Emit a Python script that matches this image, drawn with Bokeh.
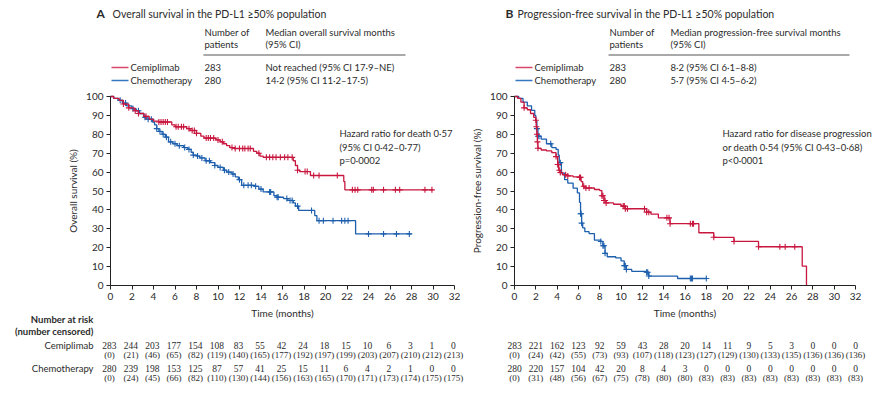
import numpy as np
from bokeh.plotting import figure
from bokeh.models import Range1d, Label, LabelSet, ColumnDataSource, Arrow, FixedTicker
from bokeh.layouts import row
from bokeh.embed import file_html
from bokeh.resources import INLINE

FONT = "Lato"
RED = "#c8173f"
BLUE = "#1d5fad"
RED_LEG = "#d9486a"
BLUE_LEG = "#3578c0"
TXT = "#2b2b2b"

# ---------------- data ----------------
months = list(range(0, 33, 2))
y_ticks = list(range(0, 101, 10))

# Panel A: overall survival
a_cemi_t = [0, 0.3, 0.8, 1.2, 1.7, 2.2, 2.6, 3.1, 3.6, 4.0, 4.5, 5.7, 6.0, 7.1, 7.4, 8.0, 8.4, 8.7,
            9.8, 10.2, 10.5, 10.8, 11.1, 11.5, 13.3, 13.6, 13.9, 14.2, 17.0, 17.2, 17.4, 17.6, 18.6, 21.7, 21.8]
a_cemi_s = [100, 99, 98, 96, 94, 92.5, 91, 89.5, 88, 87, 86.5, 85, 84, 83, 82, 80.5, 79, 78,
            77, 76, 75, 74, 73, 72.5, 71, 70, 68.5, 67.8, 66, 63.5, 61, 60.3, 58.2, 55, 50.6]
a_cemi_end = 30.0
a_cemi_cens = [1.2, 1.7, 2.3, 2.6, 3.3, 4.5, 4.7, 4.9, 5.1, 5.3, 6.1, 6.3, 6.6, 6.8, 7.3, 7.6, 7.8,
               8.0, 8.9, 9.1, 9.3, 9.6, 10.0, 10.4, 11.3, 11.6, 12.0, 12.3, 12.5, 12.8, 13.0, 13.8,
               14.5, 14.8, 15.1, 15.4, 15.8, 16.2, 16.5, 16.9, 17.4, 18.1, 18.3, 18.9, 19.4, 21.1,
               22.5, 22.75, 23.0, 24.3, 24.45, 25.4, 26.5, 26.9, 29.25, 29.9]

a_chemo_t = [0, 0.3, 0.7, 1.1, 1.5, 2.0, 2.4, 2.7, 3.1, 3.3, 3.9, 4.1, 4.3, 4.5, 4.8, 5.1, 5.4, 5.8,
             6.2, 6.8, 7.2, 7.5, 7.7, 8.0, 8.3, 8.8, 9.3, 9.7, 10.0, 10.5, 10.8, 11.3, 11.6, 11.9,
             12.2, 13.4, 13.8, 14.2, 15.2, 15.5, 16.1, 16.5, 17.0, 17.2, 17.5, 19.0, 19.2, 22.8]
a_chemo_s = [100, 99, 98, 96.5, 95, 93.5, 92.5, 91, 89, 88, 86.5, 85, 83, 81.5, 80, 78.5, 76, 75,
             74, 73, 72, 70.5, 69, 68.5, 67.5, 66, 65, 63.5, 62.5, 61, 60, 59, 57.5, 56,
             53, 52.5, 51, 49.5, 47.5, 46.7, 46, 45, 43.7, 42, 39.7, 37, 34.3, 27.3]
a_chemo_end = 28.0
a_chemo_cens = [0.9, 1.4, 2.1, 2.6, 3.2, 3.5, 3.8, 4.3, 4.6, 4.9, 5.2, 5.6, 6.0, 6.4, 6.9, 7.3, 7.7,
                8.1, 8.5, 8.9, 9.2, 9.7, 10.2, 10.6, 11.0, 11.4, 12.0, 12.4, 12.8, 13.1, 13.5, 14.0,
                14.8, 14.9, 15.5, 15.6, 16.4, 16.7, 16.9, 17.4, 18.7, 19.4, 19.8, 20.7, 21.5, 21.8,
                22.1, 24.0, 25.4, 26.6, 27.8]

# Panel B: progression-free survival
b_cemi_t = [0, 0.3, 0.6, 0.9, 1.2, 1.5, 1.8, 2.0, 2.05, 2.1, 2.15, 2.2, 2.5, 3.0, 3.5, 3.9, 4.05,
            4.15, 4.25, 4.5, 5.0, 5.5, 6.1, 6.25, 6.4, 6.6, 7.5, 8.0, 8.2, 8.4, 8.6, 9.3, 10.0,
            10.4, 12.4, 12.8, 13.5, 14.6, 17.3, 18.7, 20.6, 22.9, 27.0, 27.4]
b_cemi_s = [100, 99, 97, 94, 93, 91, 89, 87.4, 84, 80, 76, 72.6, 71.7, 71.2, 70.3, 68.2, 64,
            61, 59.8, 58.6, 58, 57.5, 57.2, 55, 52.5, 51.6, 50.8, 50.2, 47.5, 45, 43.7, 43.0, 42,
            40.6, 38.8, 37.8, 35.8, 32.7, 27.9, 25.5, 23.3, 20.5, 10.3, 0]
b_cemi_end = 27.4
b_cemi_cens = [0.9, 2.0, 2.05, 2.1, 2.15, 2.2, 3.9, 4.05, 4.1, 4.2, 4.3, 4.8, 5.0, 6.1, 6.2, 6.5,
               6.7, 7.0, 8.2, 8.3, 8.4, 8.5, 8.6, 10.2, 10.3, 10.4, 10.6, 12.2, 12.4, 12.6, 14.3,
               14.5, 14.6, 16.5, 16.7, 16.8, 18.7, 20.6, 22.9, 24.9, 25.4, 26.3]

b_chemo_t = [0, 0.4, 0.8, 1.2, 1.6, 1.9, 2.0, 2.1, 2.2, 2.5, 3.0, 3.5, 3.9, 4.1, 4.2, 4.4, 4.7,
             5.0, 5.5, 5.9, 6.1, 6.2, 6.3, 6.4, 6.6, 7.0, 7.5, 8.1, 8.3, 8.5, 8.7, 9.5, 10.0,
             10.3, 10.5, 11.0, 12.4, 12.6, 15.3]
b_chemo_s = [100, 99, 97, 95, 92.7, 90, 87, 83, 79, 77.5, 75, 73, 72, 69, 65, 59.5, 56,
             54.2, 51.5, 49, 44, 38, 33, 30.5, 28.5, 27.5, 24, 23.3, 21, 17, 15.2, 14.6, 13,
             10.5, 8.5, 7.5, 7, 5, 3.7]
b_chemo_end = 18.0
b_chemo_cens = [2.1, 2.2, 2.3, 3.4, 4.3, 6.2, 6.25, 6.3, 8.1, 8.3, 8.4, 8.5, 10.3, 10.4, 10.5,
                12.4, 12.5, 12.6, 16.5, 16.6, 16.7, 18.0]

# Numbers at risk (number censored)
a_cemi_risk = [283, 244, 203, 177, 154, 108, 83, 55, 42, 24, 18, 15, 10, 6, 3, 1, 0]
a_cemi_rcens = [0, 21, 46, 65, 82, 119, 140, 165, 177, 192, 197, 199, 203, 207, 210, 212, 213]
a_chemo_risk = [280, 239, 198, 153, 125, 87, 57, 41, 25, 15, 11, 6, 4, 2, 1, 0, 0]
a_chemo_rcens = [0, 24, 45, 66, 82, 110, 130, 144, 156, 163, 165, 170, 171, 173, 174, 175, 175]
b_cemi_risk = [283, 221, 162, 123, 92, 59, 43, 28, 20, 14, 11, 9, 5, 3, 0, 0, 0]
b_cemi_rcens = [0, 24, 42, 55, 73, 93, 107, 118, 123, 127, 129, 130, 133, 135, 136, 136, 136]
b_chemo_risk = [280, 220, 157, 104, 42, 20, 8, 4, 3, 0, 0, 0, 0, 0, 0, 0, 0]
b_chemo_rcens = [0, 31, 48, 56, 67, 75, 78, 80, 80, 83, 83, 83, 83, 83, 83, 83, 83]

arms = ["Cemiplimab", "Chemotherapy"]
a_patients = ["283", "280"]
b_patients = ["283", "280"]
a_medians = ["Not reached (95% CI 17·9–NE)", "14·2 (95% CI 11·2–17·5)"]
b_medians = ["8·2 (95% CI 6·1–8·8)", "5·7 (95% CI 4·5–6·2)"]


# ---------------- helpers ----------------
def step_values(ts, ss, cens):
    ts = np.asarray(ts)
    idx = np.searchsorted(ts, np.asarray(cens), side="right") - 1
    return [ss[i] for i in idx]


H = 394


class Panel:
    """One panel; the frame covers the whole figure, axes are fixed at the origin."""

    def __init__(self, width, off, left, right, top=96, bottom=285):
        # left/right/top/bottom: page pixel positions of t=0, t=32, 100 %, 0 %
        self.off = off
        L, R = left - off, right - off
        ppm = (R - L) / 32.0
        ppp = (bottom - top) / 100.0
        xr = Range1d(-L / ppm, 32 + (width - R) / ppm)
        yr = Range1d(-(H - bottom) / ppp, 100 + top / ppp)
        self.p = figure(width=width, height=H, output_backend="svg", toolbar_location=None,
                        x_range=xr, y_range=yr, min_border=0)
        p = self.p
        p.outline_line_color = None
        p.grid.visible = False
        p.background_fill_color = "white"
        p.border_fill_color = "white"
        for ax in (p.xaxis[0], p.yaxis[0]):
            ax.fixed_location = 0
            ax.axis_line_color = "#222222"
            ax.major_tick_line_color = "#222222"
            ax.major_tick_out = 4
            ax.major_tick_in = 0
            ax.minor_tick_line_color = None
            ax.major_label_text_font = FONT
            ax.major_label_text_font_size = "10px"
            ax.major_label_text_color = TXT
            ax.axis_label_text_font = FONT
            ax.axis_label_text_font_size = "10px"
            ax.axis_label_text_font_style = "normal"
            ax.axis_label_text_color = TXT
        p.xaxis.bounds = (0, 32)
        p.yaxis.bounds = (0, 100)
        p.xaxis.ticker = FixedTicker(ticks=months)
        p.yaxis.ticker = FixedTicker(ticks=y_ticks)
        p.xaxis.major_label_standoff = 3
        p.yaxis.major_label_standoff = 3
        p.xaxis.axis_label = "Time (months)"
        p.xaxis.axis_label_standoff = 4
        p.yaxis.axis_label_standoff = 4

    def text(self, x, y, t, size="9.5px", align="left", style="normal", color=TXT):
        self.p.add_layout(Label(x=x - self.off, y=H - y, x_units="screen", y_units="screen",
                                text=t, text_font=FONT, text_font_size=size, text_align=align,
                                text_baseline="middle", text_font_style=style, text_color=color))

    def hline(self, x0, x1, y, color, width=1.0):
        self.p.add_layout(Arrow(x_start=x0 - self.off, x_end=x1 - self.off,
                                y_start=H - y, y_end=H - y,
                                start_units="screen", end_units="screen",
                                start=None, end=None, line_color=color, line_width=width))

    def curve(self, ts, ss, end, cens, color):
        xs = list(ts) + [end]
        ys = list(ss) + [ss[-1]]
        self.p.step(xs, ys, mode="after", line_color=color, line_width=1.3)
        self.p.scatter(cens, step_values(ts, ss, cens), marker="cross", size=6,
                       line_color=color, line_width=1.1)

    def risk_row(self, values, y, offset=0.0, size="9.5px"):
        src = ColumnDataSource(dict(x=[m + offset for m in months], y=[H - y] * len(months),
                                    t=[str(v) for v in values]))
        self.p.add_layout(LabelSet(x="x", y="y", text="t", source=src, x_units="data",
                                   y_units="screen", text_font=FONT, text_font_size=size,
                                   text_align="center", text_baseline="middle", text_color=TXT))


# ---------------- panel A ----------------
A = Panel(width=466, off=0, left=110, right=454)
A.p.yaxis.axis_label = "Overall survival (%)"
A.curve(a_chemo_t, a_chemo_s, a_chemo_end, a_chemo_cens, BLUE)
A.curve(a_cemi_t, a_cemi_s, a_cemi_end, a_cemi_cens, RED)

A.text(96, 13, "A", size="12px", style="bold")
A.text(112, 13, "Overall survival in the PD-L1 ≥50% population", size="10.5px")
A.text(204, 32, "Number of")
A.text(204, 44, "patients")
A.text(265, 32, "Median overall survival months")
A.text(265, 44, "(95% CI)")
A.hline(203, 405, 54.5, "#555555", 1.2)
for i, (arm, col, n, med) in enumerate(zip(arms, [RED_LEG, BLUE_LEG], a_patients, a_medians)):
    yy = 67 + 13 * i
    A.hline(111, 128, yy, col, 1.5)
    A.text(130, yy, arm)
    A.text(204, yy, n)
    A.text(265, yy, med)

A.text(339, 133, "Hazard ratio for death 0·57")
A.text(339, 146.5, "(95% CI 0·42–0·77)")
A.text(339, 159.5, "p=0·0002")

A.text(93, 319, "Number at risk", align="right", style="bold")
A.text(93, 331, "(number censored)", align="right", style="bold")
A.text(93, 345, "Cemiplimab", align="right")
A.text(93, 367.5, "Chemotherapy", align="right")
A.risk_row(a_cemi_risk, 345, -0.1)
A.risk_row(["(%d)" % v for v in a_cemi_rcens], 354.5, -0.1, "9px")
A.risk_row(a_chemo_risk, 367.5, -0.1)
A.risk_row(["(%d)" % v for v in a_chemo_rcens], 377, -0.1, "9px")

# ---------------- panel B ----------------
B = Panel(width=418, off=466, left=514, right=855)
B.p.yaxis.axis_label = "Progression-free survival (%)"
B.curve(b_chemo_t, b_chemo_s, b_chemo_end, b_chemo_cens, BLUE)
B.curve(b_cemi_t, b_cemi_s, b_cemi_end, b_cemi_cens, RED)

B.text(505, 13, "B", size="12px", style="bold")
B.text(517, 13, "Progression-free survival in the PD-L1 ≥50% population", size="10.5px")
B.text(609, 32, "Number of")
B.text(609, 44, "patients")
B.text(670, 32, "Median progression-free survival months")
B.text(670, 44, "(95% CI)")
B.hline(608, 849, 54.5, "#555555", 1.2)
for i, (arm, col, n, med) in enumerate(zip(arms, [RED_LEG, BLUE_LEG], b_patients, b_medians)):
    yy = 67 + 13 * i
    B.hline(515, 532, yy, col, 1.5)
    B.text(534, yy, arm)
    B.text(609, yy, n)
    B.text(670, yy, med)

B.text(722, 133, "Hazard ratio for disease progression")
B.text(722, 146.5, "or death 0·54 (95% CI 0·43–0·68)")
B.text(722, 159.5, "p<0·0001")

B.risk_row(b_cemi_risk, 345)
B.risk_row(["(%d)" % v for v in b_cemi_rcens], 354.5, 0, "9px")
B.risk_row(b_chemo_risk, 367.5)
B.risk_row(["(%d)" % v for v in b_chemo_rcens], 377, 0, "9px")

layout = row(A.p, B.p, spacing=0)
open("out.html", "w").write(file_html(layout, INLINE))
